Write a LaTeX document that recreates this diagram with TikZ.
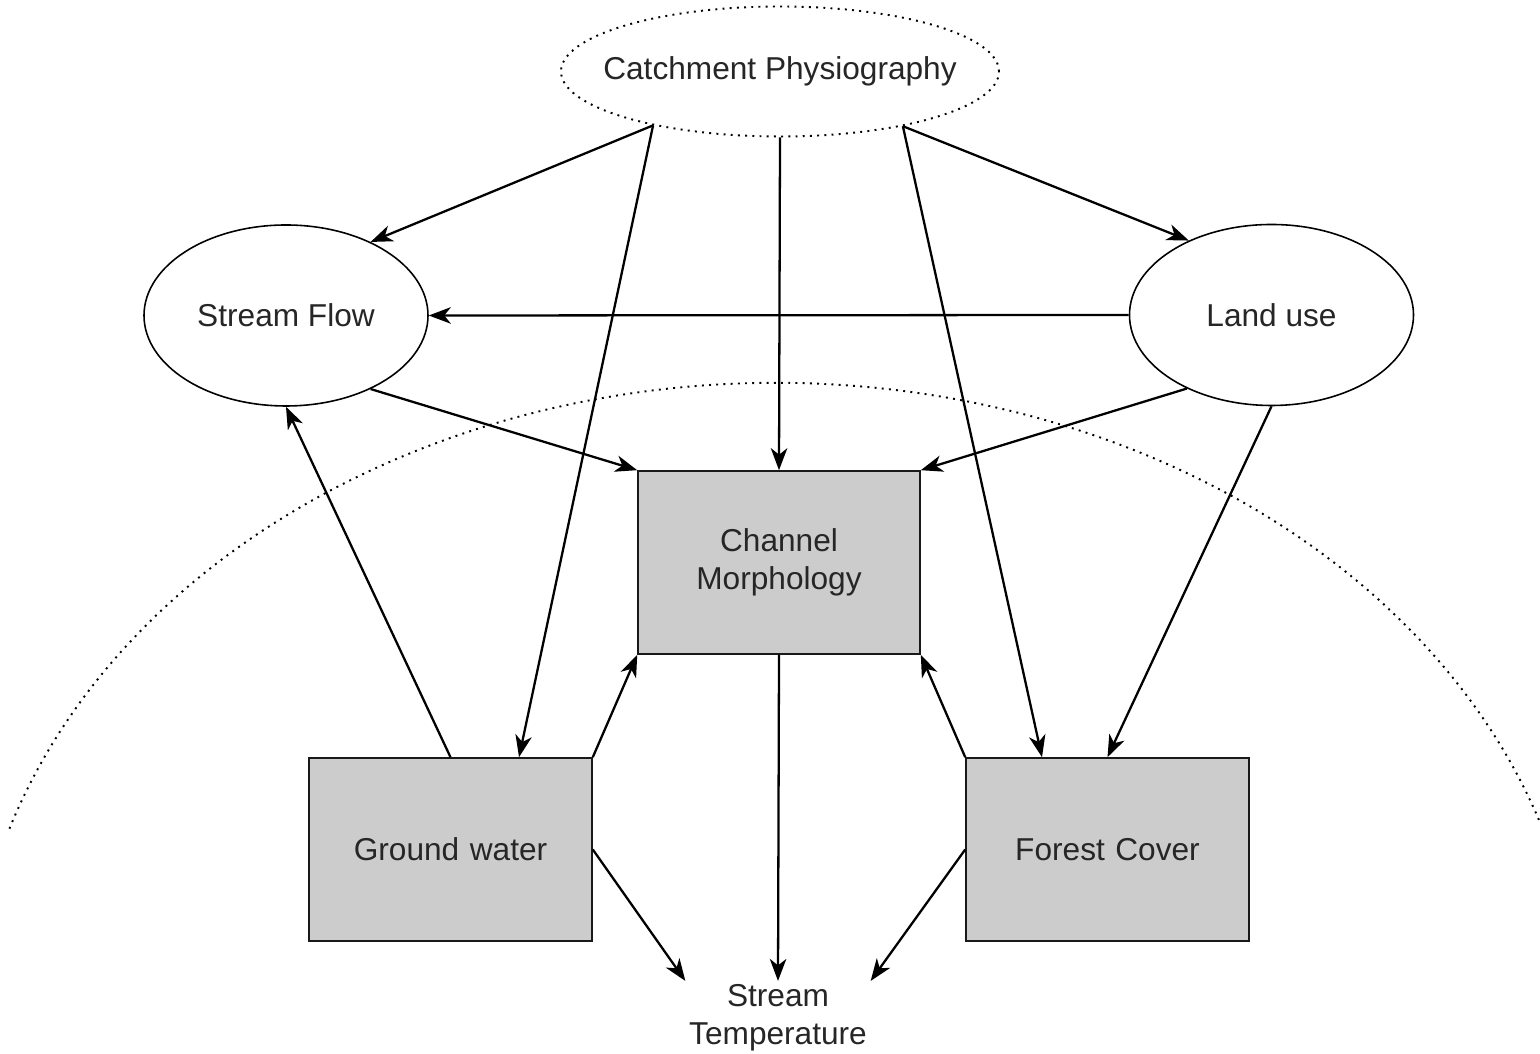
\documentclass[tikz,border=0pt]{standalone}
\usepackage{fontspec}
\setmainfont{Liberation Sans}
\usepackage{tikz}
\usetikzlibrary{shapes.geometric,arrows.meta}
\tikzstyle{factor} = [ellipse, draw = black, line width=0.9pt, inner sep=0pt, text centered, fill=white, text=black!85]
\tikzstyle{driver} = [ellipse, draw = black, line width=1.1pt, dash pattern=on 1.1pt off 3pt, inner sep=0pt, text centered, fill=white, text=black!85]
\tikzstyle{process} = [rectangle, minimum width = 5.66cm, minimum height=3.66cm, text centered, text width = 5cm, draw = black!90, line width=0.9pt, fill = black!20, text=black!85]
\tikzstyle{arrow} = [line width=1.3pt,-{Stealth[length=0.44cm,width=0.33cm,inset=0.13cm]}]

\begin{document}
\begin{tikzpicture}[font=\fontsize{18}{21.5}\selectfont]
\useasboundingbox (0,0) rectangle (30.8,21.08);

\draw[line width=1.1pt, dash pattern=on 1.1pt off 3pt] (15.52,0.52) ++(162:16.12cm and 12.9cm) arc[start angle=162, end angle=18, x radius=16.12cm, y radius=12.9cm];

\node(catchment) [driver, minimum width=8.76cm, minimum height=2.6cm] at (15.6,19.65) {\makebox[0pt]{Catchment Physiography}};
\node(streamflow) [factor, minimum width=5.68cm, minimum height=3.62cm] at (5.72,14.77) {\makebox[0pt]{Stream Flow}};
\node(landuse) [factor, minimum width=5.68cm, minimum height=3.62cm] at (25.43,14.78) {\makebox[0pt]{Land use}};
\node(channel) [process, minimum width=5.64cm] at (15.58,9.83) {Channel\\Morphology};
\node(groundwater) [process] at (9.01,4.09) {Ground water};
\node(forest) [process] at (22.15,4.09) {Forest Cover};
\node(streamtemp) [align=center, inner sep=2pt, text=black!85] at (15.56,0.72) {Stream\\Temperature};

\draw [arrow] (catchment.203.6) -- (streamflow.41.2);
\draw [arrow] (catchment.203.6) -- ([xshift=1.37cm]groundwater.north);
\draw [arrow] (catchment.south) -- (channel.north);
\draw [arrow] (catchment.336.5) -- ([xshift=-1.31cm]forest.north);
\draw [arrow] (catchment.336.5) -- (landuse.138.1);
\draw [arrow] (landuse.west) -- (streamflow.east);
\draw [arrow] (streamflow.319.1) -- (channel.north west);
\draw [arrow] (landuse.221.9) -- (channel.north east);
\draw [arrow] (landuse.south) -- (forest.north);
\draw [arrow] (groundwater.north) -- (streamflow.south);
\draw [arrow] (groundwater.north east) -- (channel.south west);
\draw [arrow] (forest.north west) -- (channel.south east);
\draw [arrow] (channel.south) -- (streamtemp.north);
\draw [arrow] (groundwater.east) -- (streamtemp.north west);
\draw [arrow] (forest.west) -- (streamtemp.north east);

\end{tikzpicture}
\end{document}
